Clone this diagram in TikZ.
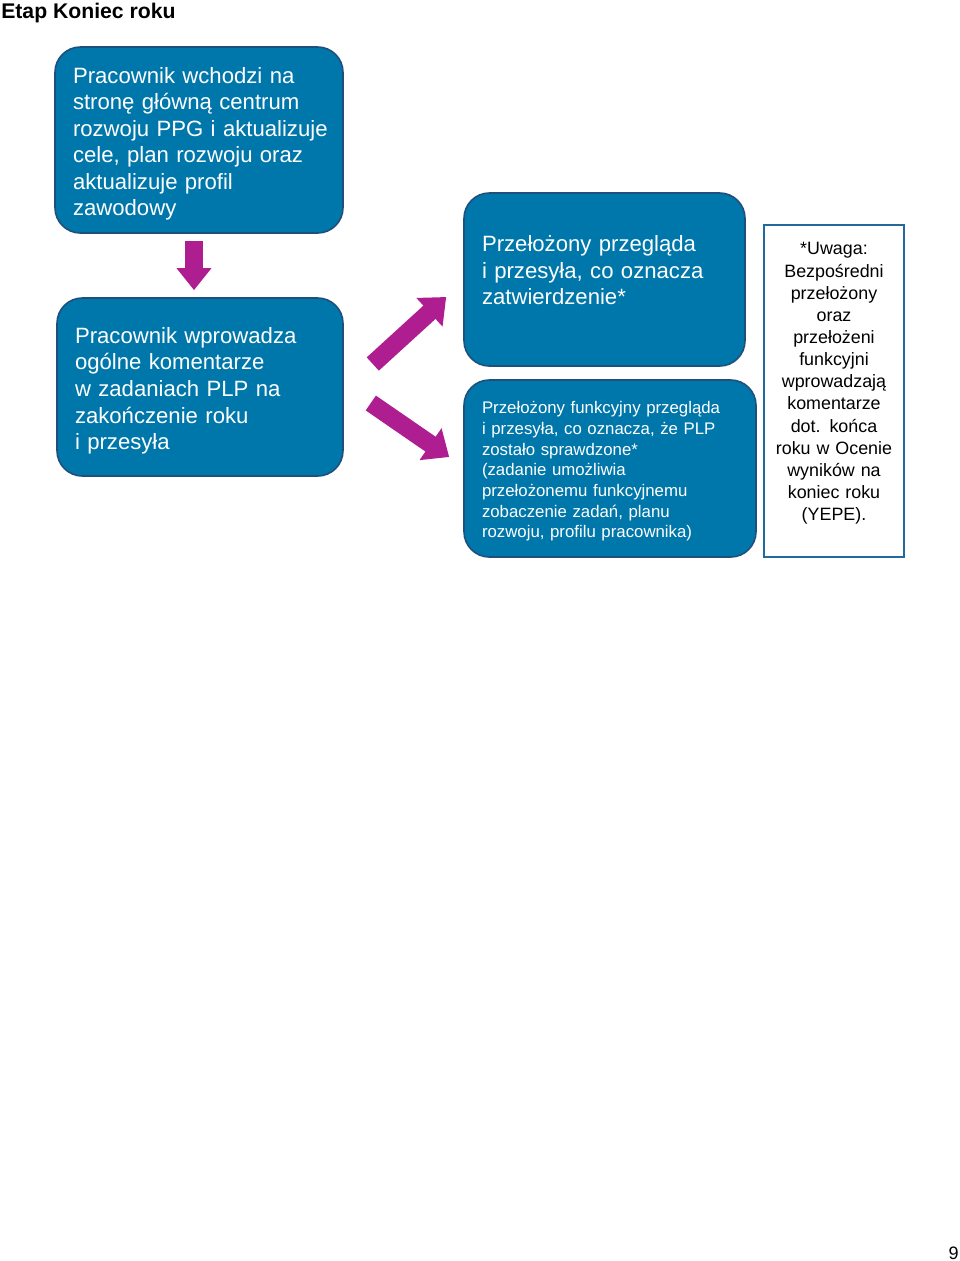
\documentclass[tikz,border=0pt]{standalone}
\usepackage{fontspec}
\setmainfont{Liberation Sans}
\usepackage{xcolor}
\usetikzlibrary{arrows.meta,positioning,calc}

\definecolor{stepblue}{RGB}{0,119,170}
\definecolor{stepedge}{RGB}{30,80,125}
\definecolor{noteedge}{RGB}{35,105,155}
\definecolor{flowmag}{RGB}{175,30,145}

\hyphenpenalty=10000
\exhyphenpenalty=10000

\begin{document}
\begin{tikzpicture}[
    x=0.75pt, y=-0.75pt,
    stepbox/.style={rectangle, draw=stepedge, line width=1.2pt, fill=stepblue, text=white, rounded corners=19pt, inner sep=0pt, align=left},
    bigfont/.style={font=\fontsize{16.6}{19.9}\selectfont, text height=17.7pt},
    smallfont/.style={font=\fontsize{12.6}{15.5}\selectfont, text height=13.7pt},
    notebox/.style={rectangle, draw=noteedge, line width=1.8pt, fill=white, inner sep=0pt, align=center, font=\fontsize{13.4}{16.6}\selectfont},
    blockarrow/.style={draw=flowmag, line width=13.5pt, -{Triangle[length=17pt,width=28pt]}},
    downarrow/.style={draw=flowmag, line width=13.5pt, -{Triangle[length=16.5pt,width=25pt]}}
]
    \useasboundingbox (0,0) rectangle (960,1261);

    % Heading and page number
    \node[anchor=base west, inner sep=0pt, font=\fontsize{15.9}{19}\selectfont\bfseries] (title) at (1,18) {Etap Koniec roku};
    \node[anchor=base east, inner sep=0pt, font=\fontsize{13.5}{16}\selectfont] (page) at (959,1259) {9};

    % Steps
    \node[stepbox, bigfont, minimum width=216pt, minimum height=139.5pt, text width=189pt] (enter) at (199,140)
        {Pracownik wchodzi na\\stronę główną centrum\\rozwoju~PPG~i~aktualizuje\\cele, plan rozwoju oraz\\aktualizuje profil\\zawodowy};
    \node[stepbox, bigfont, minimum width=214.5pt, minimum height=133.5pt, text width=187.5pt] (comment) at (200,387)
        {Pracownik wprowadza\\ogólne komentarze\\w zadaniach PLP na\\zakończenie roku\\i przesyła};
    \node[stepbox, bigfont, minimum width=210.75pt, minimum height=129.75pt, text width=183.75pt] (approve) at (604.5,279.5)
        {Przełożony przegląda\\i przesyła, co oznacza\\zatwierdzenie*\\ \mbox{}};
    \node[stepbox, smallfont, minimum width=219pt, minimum height=132.75pt, text width=192pt] (review) at (610,468.5)
        {Przełożony~funkcyjny~przegląda\\i~przesyła,~co~oznacza,~że~PLP\\zostało sprawdzone*\\(zadanie umożliwia\\przełożonemu funkcyjnemu\\zobaczenie zadań, planu\\rozwoju,~profilu~pracownika)};

    % Note
    \node[notebox, minimum width=105pt, minimum height=249pt, text width=97.5pt] (note) at (834,391)
        {*Uwaga:\\Bezpośredni\\przełożony\\oraz\\przełożeni\\funkcyjni\\wprowadzają\\komentarze\\dot. końca\\roku w Ocenie\\wyników na\\koniec roku\\(YEPE).\\[-2.5pt]\mbox{}};

    % Arrows
    \draw[downarrow] ($(enter.south)+(-5,7)$) -- ($(comment.north)+(-6,-7)$);
    \draw[blockarrow] ($(comment.east)+(29,-23)$) -- ($(approve.west)+(-17,17.5)$);
    \draw[blockarrow] ($(comment.east)+(27,16)$) -- ($(review.west)+(-14,-11.5)$);
\end{tikzpicture}
\end{document}
